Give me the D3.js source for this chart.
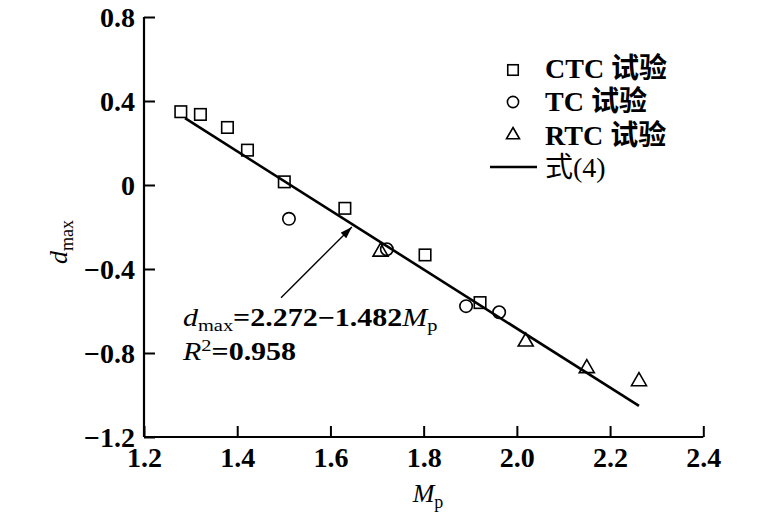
<!DOCTYPE html>
<html>
<head>
<meta charset="utf-8">
<script src="https://cdn.jsdelivr.net/npm/d3@7/dist/d3.min.js"></script>
<style>
  html, body { margin: 0; padding: 0; background: #fff; }
  svg { display: block; }
</style>
</head>
<body>
<svg id="chart" width="771" height="528"></svg>
<script>
// ---- data ----
const ctcX = [1.279, 1.321, 1.379, 1.422, 1.501, 1.631, 1.803, 1.921];
const ctcY = [0.349, 0.336, 0.274, 0.166, 0.015, -0.111, -0.333, -0.560];
const tcX  = [1.511, 1.721, 1.891, 1.962];
const tcY  = [-0.161, -0.306, -0.577, -0.606];
const rtcX = [1.7075, 2.019, 2.150, 2.262];
const rtcY = [-0.318, -0.746, -0.873, -0.935];
const fitX = [1.288, 2.262];
const fitY = [0.318, -1.052];
const arrowX = [1.494, 1.646];
const arrowY = [-0.537, -0.200];
const xTicks = [1.2, 1.4, 1.6, 1.8, 2.0, 2.2, 2.4];
const xTickLabels = ["1.2", "1.4", "1.6", "1.8", "2.0", "2.2", "2.4"];
const yTicks = [0.8, 0.4, 0, -0.4, -0.8, -1.2];
const yTickLabels = ["0.8", "0.4", "0", "\u22120.4", "\u22120.8", "\u22121.2"];
const legendLabels = ["CTC 试验", "TC 试验", "RTC 试验", "式(4)"];

// ---- layout ----
const svg = d3.select("#chart");
const x = d3.scaleLinear().domain([1.2, 2.4]).range([144, 703.3]);
const y = d3.scaleLinear().domain([-1.2, 0.8]).range([437, 17]);
const serif = "'Liberation Serif', 'Times New Roman', 'Noto Sans CJK SC', serif";

// axes (ticks inward)
const xAxis = d3.axisBottom(x).tickValues(xTicks).tickSize(-11)
  .tickFormat((d, i) => xTickLabels[i]).tickPadding(22);
const yAxis = d3.axisLeft(y).tickValues(yTicks).tickSize(-11)
  .tickFormat((d, i) => yTickLabels[i]).tickPadding(20);

const gx = svg.append("g").attr("transform", `translate(0,${y(-1.2)})`).call(xAxis);
const gy = svg.append("g").attr("transform", `translate(${x(1.2)},0)`).call(yAxis);
[gx, gy].forEach(g => {
  g.attr("font-family", null);
  g.select(".domain").attr("stroke", "#000").attr("stroke-width", 2.2);
  g.selectAll(".tick line").attr("stroke", "#000").attr("stroke-width", 2);
  g.selectAll(".tick text").attr("fill", "#000")
    .style("font-family", serif).style("font-size", "28px").style("font-weight", "bold");
});
gx.select(".domain").attr("d", `M${x(1.2)},0H${x(2.4)}`);
gy.select(".domain").attr("d", `M0,${y(0.8)}V${y(-1.2)}`);
gx.selectAll(".tick text").attr("dy", "0.71em").attr("y", 10);
gy.selectAll(".tick text").attr("x", -9).attr("dy", "0.34em");

// fit line
svg.append("path")
  .datum(fitX.map((v, i) => [v, fitY[i]]))
  .attr("d", d3.line().x(d => x(d[0])).y(d => y(d[1])))
  .attr("fill", "none").attr("stroke", "#000").attr("stroke-width", 2.6);

// markers
function drawSquare(g, cx, cy, s) {
  g.append("rect").attr("x", cx - s / 2).attr("y", cy - s / 2).attr("width", s).attr("height", s)
    .attr("fill", "none").attr("stroke", "#000").attr("stroke-width", 1.6);
}
function drawCircle(g, cx, cy, r) {
  g.append("circle").attr("cx", cx).attr("cy", cy).attr("r", r)
    .attr("fill", "none").attr("stroke", "#000").attr("stroke-width", 1.6);
}
function drawTriangle(g, cx, cy, s) {
  const h = s * Math.sqrt(3) / 2;
  g.append("path")
    .attr("d", `M${cx},${cy - 2 * h / 3}L${cx + s / 2},${cy + h / 3}L${cx - s / 2},${cy + h / 3}Z`)
    .attr("fill", "none").attr("stroke", "#000").attr("stroke-width", 1.6);
}
const gm = svg.append("g");
ctcX.forEach((v, i) => drawSquare(gm, x(v), y(ctcY[i]), 11.5));
tcX.forEach((v, i) => drawCircle(gm, x(v), y(tcY[i]), 6.2));
rtcX.forEach((v, i) => drawTriangle(gm, x(v), y(rtcY[i]), 15));

// arrow
svg.append("defs").append("marker")
  .attr("id", "ah").attr("viewBox", "0 0 12 8").attr("refX", 12).attr("refY", 4)
  .attr("markerWidth", 12).attr("markerHeight", 8).attr("markerUnits", "userSpaceOnUse")
  .attr("orient", "auto")
  .append("path").attr("d", "M0,0L12,4L0,8Z").attr("fill", "#000");
svg.append("line")
  .attr("x1", x(arrowX[0])).attr("y1", y(arrowY[0]))
  .attr("x2", x(arrowX[1])).attr("y2", y(arrowY[1]))
  .attr("stroke", "#000").attr("stroke-width", 1.4).attr("marker-end", "url(#ah)");

// annotation
const ann = svg.append("g").attr("transform", "translate(183,0) scale(1.2,1)")
  .style("font-family", serif).attr("fill", "#000");
const t1 = ann.append("text").attr("x", 0).attr("y", 326).style("font-size", "25px");
t1.append("tspan").style("font-style", "italic").text("d");
t1.append("tspan").attr("dy", 5).style("font-size", "17px").text("max");
t1.append("tspan").attr("dy", -5).style("font-weight", "bold").text("=2.272\u22121.482");
t1.append("tspan").style("font-style", "italic").text("M");
t1.append("tspan").attr("dy", 5).style("font-size", "17px").text("p");
const t2 = ann.append("text").attr("x", 0).attr("y", 360).style("font-size", "25px");
t2.append("tspan").style("font-style", "italic").text("R");
t2.append("tspan").attr("dy", -9).style("font-size", "17px").text("2");
t2.append("tspan").attr("dy", 9).style("font-weight", "bold").text("=0.958");

// axis titles
const xt = svg.append("text").attr("x", 428).attr("y", 502).attr("text-anchor", "middle")
  .style("font-family", serif).style("font-size", "26px").attr("fill", "#000");
xt.append("tspan").style("font-style", "italic").text("M");
xt.append("tspan").attr("dy", 6).style("font-size", "18px").text("p");

const yt = svg.append("text").attr("transform", "translate(67,242) rotate(-90)")
  .attr("text-anchor", "middle")
  .style("font-family", serif).style("font-size", "26px").attr("fill", "#000");
yt.append("tspan").style("font-style", "italic").text("d");
yt.append("tspan").attr("dy", 6).style("font-size", "18px").text("max");

// legend
const lg = svg.append("g");
const rowBase = [78, 111, 145, 177];
const markerY = [70, 102, 135];
drawSquare(lg, 513, markerY[0], 10.5);
drawCircle(lg, 513, markerY[1], 5.6);
drawTriangle(lg, 513, markerY[2], 13);
lg.append("line").attr("x1", 490).attr("x2", 537).attr("y1", 167).attr("y2", 167)
  .attr("stroke", "#000").attr("stroke-width", 2.4);
lg.selectAll("text.leg").data(legendLabels).enter().append("text")
  .attr("class", "leg")
  .attr("x", 545).attr("y", (d, i) => rowBase[i])
  .style("font-family", serif).style("font-size", "28px")
  .style("font-weight", (d, i) => i < 3 ? "bold" : "normal")
  .attr("fill", "#000").text(d => d);
</script>
</body>
</html>
